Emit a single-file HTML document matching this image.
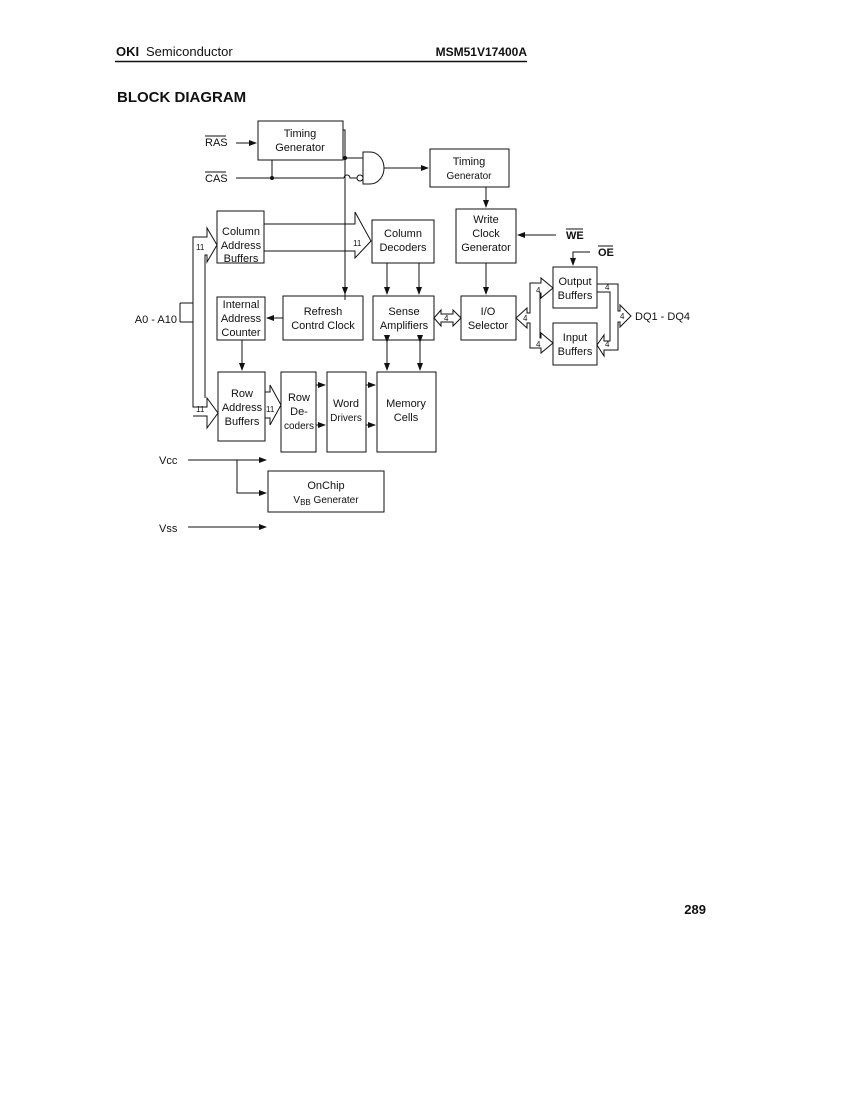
<!DOCTYPE html>
<html><head><meta charset="utf-8"><style>
html,body{margin:0;padding:0;background:#fff;}
svg{display:block;}
text{font-family:"Liberation Sans",sans-serif;fill:#111;}
</style></head><body>
<svg width="850" height="1100" viewBox="0 0 850 1100" xmlns="http://www.w3.org/2000/svg">
<defs><marker id="a" markerWidth="8" markerHeight="6" refX="7" refY="3" orient="auto"><path d="M0,0 L8,3 L0,6z" fill="#111"/></marker></defs>
<!-- header -->
<text x="116" y="56" font-size="13" font-weight="bold" font-family="Liberation Serif">OKI</text>
<text x="146" y="56" font-size="13">Semiconductor</text>
<text x="527" y="56" font-size="12" font-weight="bold" text-anchor="end">MSM51V17400A</text>
<line x1="115" y1="61.5" x2="527" y2="61.5" stroke="#111" stroke-width="1.5"/>
<text x="117" y="102" font-size="15" font-weight="bold">BLOCK DIAGRAM</text>
<text x="706" y="914" font-size="13" font-weight="bold" text-anchor="end">289</text>

<g fill="none" stroke="#111" stroke-width="1">
<rect x="258" y="121" width="85" height="39"/>
<rect x="430" y="149" width="79" height="38"/>
<rect x="217" y="211" width="47" height="52"/>
<rect x="372" y="220" width="62" height="43"/>
<rect x="456" y="209" width="60" height="54"/>
<rect x="217" y="297" width="48" height="43"/>
<rect x="283" y="296" width="80" height="44"/>
<rect x="373" y="296" width="61" height="44"/>
<rect x="461" y="296" width="55" height="44"/>
<rect x="553" y="267" width="44" height="41"/>
<rect x="553" y="323" width="44" height="42"/>
<rect x="218" y="372" width="47" height="69"/>
<rect x="281" y="372" width="35" height="80"/>
<rect x="327" y="372" width="39" height="80"/>
<rect x="377" y="372" width="59" height="80"/>
<rect x="268" y="471" width="116" height="41"/>
<path d="M363,152 L370,152 A14,16 0 0 1 370,184 L363,184 Z"/>
<circle cx="360" cy="178" r="3"/>
<line x1="236" y1="143" x2="256" y2="143" marker-end="url(#a)"/>
<line x1="236" y1="178" x2="344" y2="178"/>
<path d="M344,178 a3,3 0 0 1 6,0 L357,178"/>
<line x1="272" y1="160" x2="272" y2="178"/>
<path d="M343,130 L345,130 L345,300" />
<line x1="345" y1="288" x2="345" y2="294" marker-end="url(#a)"/>
<line x1="345" y1="158" x2="363" y2="158"/>
<line x1="384" y1="168" x2="428" y2="168" marker-end="url(#a)"/>
<line x1="486" y1="187" x2="486" y2="207" marker-end="url(#a)"/>
<line x1="556" y1="235" x2="518" y2="235" marker-end="url(#a)"/>
<path d="M590,252 L573,252 L573,265" marker-end="url(#a)"/>
<line x1="486" y1="263" x2="486" y2="294" marker-end="url(#a)"/>
<path d="M264,224 L355,224 L355,212 L371,241 L355,258 L355,251 L264,251"/>
<line x1="387" y1="263" x2="387" y2="294" marker-end="url(#a)"/>
<line x1="419" y1="263" x2="419" y2="294" marker-end="url(#a)"/>
<line x1="387" y1="342" x2="387" y2="370" marker-start="url(#a)" marker-end="url(#a)"/>
<line x1="420" y1="342" x2="420" y2="370" marker-start="url(#a)" marker-end="url(#a)"/>
<line x1="283" y1="318" x2="267" y2="318" marker-end="url(#a)"/>
<line x1="242" y1="340" x2="242" y2="370" marker-end="url(#a)"/>
<path d="M180,303 L193,303 L193,407 L207,407 L207,398 L218,413 L207,428 L207,416 L193,416 M193,303"/>
<path d="M180,322 L193,322 L193,237 L207,237 L207,228 L217,245 L207,262 L207,255 L205,255 L205,398"/>
<path d="M180,303 L180,322"/>
<path d="M265,392 L270,392 L270,385 L281,405 L270,425 L270,418 L265,418"/>
<line x1="316" y1="385" x2="325" y2="385" marker-end="url(#a)"/>
<line x1="316" y1="425" x2="325" y2="425" marker-end="url(#a)"/>
<line x1="366" y1="385" x2="375" y2="385" marker-end="url(#a)"/>
<line x1="366" y1="425" x2="375" y2="425" marker-end="url(#a)"/>
<path d="M434,318 L441,310 L441,314 L453,314 L453,310 L461,318 L453,326 L453,322 L441,322 L441,326 Z"/>
<path d="M516,318 L527,308 L527,313 L530,313 L530,283 L541,283 L541,278 L553,288 L541,298 L541,293 L540,293 L540,338 L541,338 L541,333 L553,343 L541,353 L541,348 L530,348 L530,323 L527,323 L527,328 Z"/>
<path d="M597,284 L618,284 L618,311 L620,311 L620,305 L631,316 L620,327 L620,322 L618,322 L618,350 L604,350 L604,356 L597,345 L604,335 L604,341 L610,341 L610,292 L597,292"/>
<line x1="188" y1="460" x2="266" y2="460" marker-end="url(#a)"/>
<path d="M237,460 L237,493 L266,493" marker-end="url(#a)"/>
<line x1="188" y1="527" x2="266" y2="527" marker-end="url(#a)"/>
</g>
<g fill="#111"><circle cx="272" cy="178" r="2"/><circle cx="345" cy="158" r="2"/></g>

<g font-size="11" text-anchor="middle">
<text x="300" y="137">Timing</text><text x="300" y="151">Generator</text>
<text x="469" y="165">Timing</text><text x="469" y="179" font-size="10">Generator</text>
<text x="241" y="235">Column</text><text x="241" y="249">Address</text><text x="241" y="262">Buffers</text>
<text x="403" y="237">Column</text><text x="403" y="251">Decoders</text>
<text x="486" y="223">Write</text><text x="486" y="237">Clock</text><text x="486" y="251">Generator</text>
<text x="241" y="308">Internal</text><text x="241" y="322">Address</text><text x="241" y="336">Counter</text>
<text x="323" y="315">Refresh</text><text x="323" y="329">Contrd Clock</text>
<text x="404" y="315">Sense</text><text x="404" y="329">Amplifiers</text>
<text x="488" y="315">I/O</text><text x="488" y="329">Selector</text>
<text x="575" y="285">Output</text><text x="575" y="299">Buffers</text>
<text x="575" y="341">Input</text><text x="575" y="355">Buffers</text>
<text x="242" y="397">Row</text><text x="242" y="411">Address</text><text x="242" y="425">Buffers</text>
<text x="299" y="401">Row</text><text x="299" y="415">De-</text><text x="299" y="429" font-size="10">coders</text>
<text x="346" y="407">Word</text><text x="346" y="421" font-size="10">Drivers</text>
<text x="406" y="407">Memory</text><text x="406" y="421">Cells</text>
<text x="326" y="489">OnChip</text><text x="326" y="503" font-size="10">V<tspan font-size="8" dy="2">BB</tspan><tspan dy="-2"> Generater</tspan></text>
</g>
<g font-size="11">
<text x="205" y="146">RAS</text><line x1="205" y1="136" x2="226" y2="136" stroke="#111"/>
<text x="205" y="182">CAS</text><line x1="205" y1="172" x2="226" y2="172" stroke="#111"/>
<text x="566" y="239" font-weight="bold">WE</text><line x1="566" y1="229" x2="583" y2="229" stroke="#111"/>
<text x="598" y="256" font-weight="bold">OE</text><line x1="598" y1="246" x2="613" y2="246" stroke="#111"/>
<text x="177" y="323" text-anchor="end">A0 - A10</text>
<text x="635" y="320">DQ1 - DQ4</text>
<text x="159" y="464">Vcc</text>
<text x="159" y="532">Vss</text>
</g>
<g font-size="8">
<text x="196" y="250">11</text><text x="353" y="246">11</text><text x="196" y="412">11</text><text x="266" y="412">11</text>
<text x="444" y="321">4</text><text x="523" y="321">4</text><text x="536" y="293">4</text><text x="536" y="347">4</text>
<text x="605" y="290">4</text><text x="605" y="347">4</text><text x="620" y="319">4</text>
</g>
</svg>
</body></html>
